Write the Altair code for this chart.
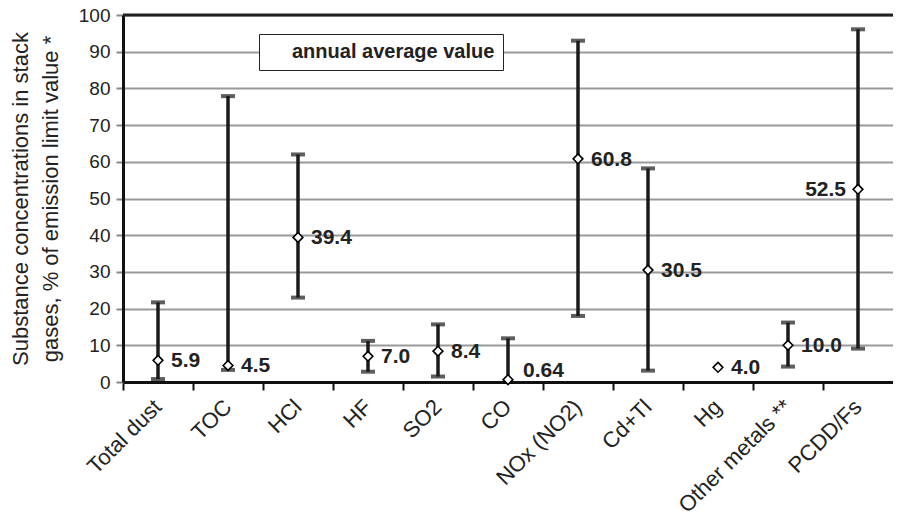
import altair as alt
import pandas as pd

categories = ["Total dust", "TOC", "HCl", "HF", "SO2", "CO", "NOx (NO2)",
              "Cd+Tl", "Hg", "Other metals **", "PCDD/Fs"]
avg_values = [5.9, 4.5, 39.4, 7.0, 8.4, 0.64, 60.8, 30.5, 4.0, 10.0, 52.5]
low_values = [0.8, 3.3, 23.0, 2.8, 1.5, 0.0, 18.0, 3.1, None, 4.2, 9.1]
high_values = [21.7, 77.9, 62.0, 11.2, 15.7, 11.9, 93.0, 58.2, None, 16.2, 96.1]
value_labels = ["5.9", "4.5", "39.4", "7.0", "8.4", "0.64", "60.8", "30.5",
                "4.0", "10.0", "52.5"]
series_name = "annual average value"
y_ticks = [0, 10, 20, 30, 40, 50, 60, 70, 80, 90, 100]

df = pd.DataFrame({
    "cat": categories,
    "avg": avg_values,
    "low": low_values,
    "high": high_values,
    "label": value_labels,
    "series": [series_name] * len(categories),
})

FONT = "Liberation Sans"

x_axis = alt.Axis(
    labelAngle=-45, labelAlign="right", labelBaseline="middle",
    labelFontSize=22, labelColor="#222", labelFont=FONT, labelPadding=13,
    bandPosition=0, tickColor="#111", tickWidth=2, tickSize=8,
    domainColor="#111", domainWidth=3, grid=False, labelLimit=300,
)
x_scale = alt.Scale(paddingInner=0, paddingOuter=0)
y_scale = alt.Scale(domain=[0, 100], nice=False)
y_axis = alt.Axis(
    values=y_ticks, tickCount=11, labelOverlap=False,
    title=["Substance concentrations in stack",
           "gases, % of emission limit value *"],
    titleFontSize=22, titleFontWeight="normal", titleColor="#222", titleFont=FONT,
    titleLineHeight=30, titlePadding=16,
    labelFontSize=19, labelColor="#222", labelFont=FONT, labelPadding=6,
    tickColor="#888", tickWidth=2, tickSize=7,
    domainColor="#111", domainWidth=3,
    grid=True, gridColor="#999", gridWidth=2,
)


def X():
    return alt.X("cat:N", sort=categories, title=None, scale=x_scale, axis=x_axis)


def Y(field):
    return alt.Y(field, scale=y_scale, axis=y_axis)


base = alt.Chart(df)

top_rule = base.mark_rule(color="#222", strokeWidth=3).encode(
    y=alt.Y("top:Q", scale=y_scale, axis=y_axis)
).transform_filter("datum.cat == 'Total dust'").transform_calculate(top="100")

err_data = base.transform_filter("isValid(datum.high)")

bars = err_data.mark_rule(color="#1a1a1a", strokeWidth=3.5).encode(
    x=X(), y=Y("low:Q"), y2="high:Q"
)
cap_hi = err_data.mark_tick(color="#1a1a1a", thickness=4, size=14,
                            orient="horizontal").encode(
    x=X(), y=Y("high:Q")
)
cap_lo = err_data.transform_filter("datum.low > 0.3").mark_tick(
    color="#1a1a1a", thickness=4, size=14, orient="horizontal").encode(
    x=X(), y=Y("low:Q")
)

points = base.mark_point(filled=False, fill="white", color="black",
                         strokeWidth=1.6, size=95, opacity=1, fillOpacity=1).encode(
    x=X(),
    y=Y("avg:Q"),
    shape=alt.Shape(
        "series:N",
        scale=alt.Scale(range=["diamond"]),
        legend=alt.Legend(
            title=None,
            orient="none", legendX=136, legendY=19,
            strokeColor="#222", fillColor="white", padding=8,
            symbolSize=120, symbolType="diamond",
            symbolStrokeColor="black", symbolStrokeWidth=1.6,
            symbolOpacity=1, labelOffset=5,
            labelFontSize=20, labelFontWeight="bold", labelColor="#222",
            labelFont=FONT, labelLimit=400,
            labelExpr="datum.label + '\u00a0\u00a0\u00a0\u00a0\u00a0'",
        ),
    ),
)

text_style = dict(fontSize=21, fontWeight="bold", color="#222", font=FONT,
                  baseline="middle")
labels_right = base.transform_filter(
    "datum.cat != 'PCDD/Fs' && datum.cat != 'CO'"
).mark_text(align="left", dx=13, dy=1, **text_style).encode(
    x=X(), y=Y("avg:Q"), text="label:N"
)
labels_co = base.transform_filter("datum.cat == 'CO'").mark_text(
    align="left", dx=15, dy=-9, **text_style).encode(
    x=X(), y=Y("avg:Q"), text="label:N"
)
labels_left = base.transform_filter("datum.cat == 'PCDD/Fs'").mark_text(
    align="right", dx=-12, dy=1, **text_style).encode(
    x=X(), y=Y("avg:Q"), text="label:N"
)

chart = alt.layer(
    top_rule, bars, cap_hi, cap_lo, points,
    labels_right, labels_co, labels_left
).properties(
    width=770, height=367,
    autosize=alt.AutoSizeParams(type="none"),
    padding={"left": 115, "top": 7, "right": 0, "bottom": 140},
).configure_view(stroke=None).configure(background="white")

chart.save("out.html", embed_options={"renderer": "svg", "actions": False})
